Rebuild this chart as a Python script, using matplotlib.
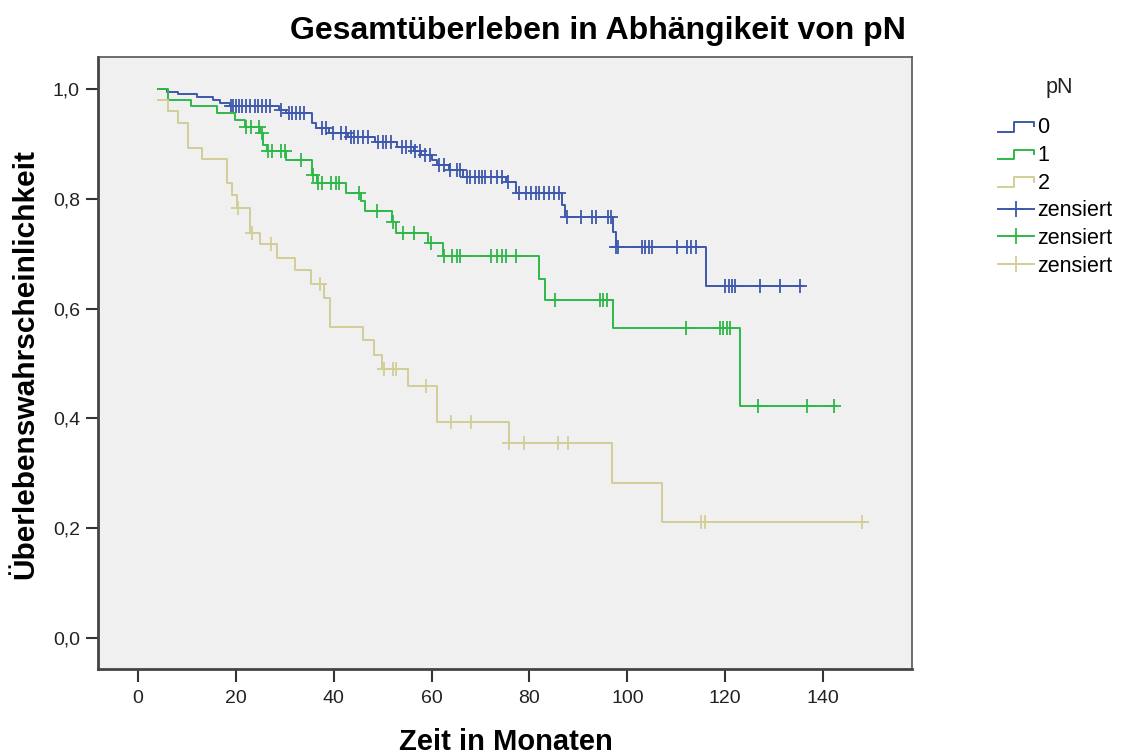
import numpy as np
import matplotlib
matplotlib.use('Agg')
import matplotlib.pyplot as plt
from matplotlib.lines import Line2D
from matplotlib.legend_handler import HandlerBase

plt.rcParams['font.family'] = ['Liberation Sans', 'DejaVu Sans']

# Kaplan-Meier Schaetzung (Zeit in Monaten)
# pN = 0
zeit_0 = [4.1, 5.9, 8.2, 12.0, 15.3, 16.7, 18.7, 28.8, 30.2, 35.6, 36.3, 39.0,
          43.0, 48.4, 53.0, 56.3, 57.9, 60.0, 61.1, 63.5, 66.4, 75.3, 77.3,
          86.6, 87.3, 97.0, 97.7, 116.0]
surv_0 = [1.0, 0.995, 0.991, 0.986, 0.980, 0.974, 0.968, 0.962, 0.956, 0.937,
          0.928, 0.919, 0.913, 0.904, 0.895, 0.886, 0.880, 0.871, 0.862, 0.853,
          0.840, 0.831, 0.810, 0.789, 0.767, 0.740, 0.713, 0.641]
ende_0 = 136.0
zens_0 = [19.0, 19.5, 20.0, 20.6, 21.2, 22.0, 22.8, 23.8, 24.5, 25.3, 26.2,
          27.0, 29.3, 30.8, 31.5, 32.2, 33.0, 34.0, 37.5, 38.5, 39.8, 41.5,
          42.5, 43.5, 44.2, 45.0, 46.0, 47.0, 49.0, 50.0, 50.7, 51.7, 54.0,
          54.7, 55.7, 56.7, 57.7, 58.7, 59.7, 61.5, 62.5, 63.8, 65.2, 65.9,
          67.2, 67.9, 68.9, 69.6, 70.2, 70.9, 72.2, 73.3, 74.3, 75.6, 77.9,
          79.3, 80.3, 81.3, 82.0, 83.0, 84.0, 85.0, 86.0, 87.6, 90.6, 92.7,
          93.7, 96.0, 96.7, 97.7, 98.0, 103.0, 103.7, 104.4, 105.1, 110.2,
          112.3, 113.0, 114.0, 120.0, 120.7, 121.4, 122.0, 127.2, 131.3, 135.3]

# pN = 1
zeit_1 = [4.1, 6.2, 10.9, 16.1, 19.8, 21.8, 25.0, 25.6, 26.3, 30.3, 35.6,
          36.5, 42.6, 45.6, 46.3, 52.0, 52.8, 59.3, 62.4, 81.9, 83.1, 97.0,
          123.0]
surv_1 = [1.0, 0.979, 0.968, 0.956, 0.944, 0.931, 0.919, 0.898, 0.886, 0.871,
          0.844, 0.828, 0.810, 0.795, 0.777, 0.758, 0.737, 0.719, 0.695, 0.653,
          0.616, 0.565, 0.423]
ende_1 = 142.7
zens_1 = [22.1, 23.1, 24.8, 25.4, 26.6, 27.3, 29.3, 30.0, 33.4, 35.8, 36.8,
          37.5, 39.4, 40.4, 41.1, 45.2, 48.9, 52.2, 54.2, 56.3, 59.9, 62.6,
          64.1, 65.1, 65.8, 72.2, 73.3, 74.3, 75.3, 77.3, 85.2, 94.4, 95.1,
          95.8, 112.0, 118.9, 119.6, 120.3, 121.0, 126.8, 136.8, 142.3]

# pN = 2
zeit_2 = [4.1, 6.2, 8.2, 10.3, 13.0, 18.1, 19.1, 20.2, 22.9, 24.9, 28.4,
          32.1, 35.3, 38.0, 39.2, 46.0, 48.2, 49.9, 55.1, 61.0, 75.8, 96.9,
          107.0]
surv_2 = [0.980, 0.959, 0.937, 0.892, 0.872, 0.828, 0.807, 0.784, 0.738,
          0.717, 0.693, 0.670, 0.645, 0.619, 0.567, 0.543, 0.516, 0.490, 0.460,
          0.394, 0.355, 0.282, 0.212]
ende_2 = 148.5
zens_2 = [20.4, 23.2, 27.1, 37.1, 50.2, 52.1, 52.8, 58.9, 64.0, 68.1, 75.9,
          78.8, 85.8, 87.8, 115.0, 115.9, 147.9]

farben = ['#3e58ac', '#2eb848', '#d3ce97']
y_ticks = [0.0, 0.2, 0.4, 0.6, 0.8, 1.0]
x_ticks = [0, 20, 40, 60, 80, 100, 120, 140]


class StepHandler(HandlerBase):
    '''Kleine Treppe als Legendensymbol, wie in SPSS.'''
    def create_artists(self, legend, orig_handle, xdescent, ydescent,
                       width, height, fontsize, trans):
        xs = np.array([0.0, 0.45, 0.45, 1.0, 1.0]) * width - xdescent
        ys = np.array([0.1, 0.1, 0.75, 0.75, 0.45]) * height - ydescent
        line = Line2D(xs, ys, color=orig_handle.get_color(),
                      lw=orig_handle.get_linewidth())
        line.set_transform(trans)
        return [line]


def km_kurve(ax, zeit, surv, ende, zens, farbe):
    '''Treppenkurve plus zensierte Faelle als +'''
    ax.step(zeit + [ende], surv + [surv[-1]], where='post', color=farbe, lw=1.4)
    idx = np.searchsorted(zeit, zens, side='right') - 1
    ax.plot(zens, np.array(surv)[idx], ls='none', marker='+', ms=10,
            mew=1.3, color=farbe)


fig = plt.figure(figsize=(11.26, 7.56), dpi=100)
ax = fig.add_axes([0.087, 0.1151, 0.723, 0.8095])
ax.set_facecolor('#f0f0f0')

km_kurve(ax, zeit_0, surv_0, ende_0, zens_0, farben[0])
km_kurve(ax, zeit_1, surv_1, ende_1, zens_1, farben[1])
km_kurve(ax, zeit_2, surv_2, ende_2, zens_2, farben[2])

ax.set_xlim(-8.2, 158.2)
ax.set_ylim(-0.056, 1.058)
ax.set_xticks(x_ticks)
ax.set_xticklabels([str(v) for v in x_ticks])
ax.set_yticks(y_ticks)
ax.set_yticklabels([f'{v:.1f}'.replace('.', ',') for v in y_ticks])
ax.tick_params(axis='both', direction='out', length=9, width=1.5,
               color='#333333', labelsize=14, labelcolor='#222222')
ax.tick_params(axis='y', pad=4)
ax.tick_params(axis='x', pad=6)
for side in ['left', 'bottom']:
    ax.spines[side].set_linewidth(2.0)
    ax.spines[side].set_color('#444444')
for side in ['top', 'right']:
    ax.spines[side].set_linewidth(1.2)
    ax.spines[side].set_color('#555555')

fig.text(0.531, 0.959, 'Gesamtüberleben in Abhängikeit von pN',
         fontsize=23, fontweight='bold', ha='center', va='center')
fig.text(0.449, 0.018, 'Zeit in Monaten', fontsize=21, fontweight='bold',
         ha='center', va='center')
fig.text(0.022, 0.519, 'Überlebenswahrscheinlichkeit', fontsize=21.5,
         fontweight='bold', rotation=90, ha='center', va='center')

# Legende
fig.text(0.9405, 0.884, 'pN', fontsize=15.5, ha='center', va='center',
         color='#222222')
griffe = [Line2D([], [], color=f, lw=1.4) for f in farben]
griffe += [Line2D([], [], color=f, lw=1.4, marker='+', ms=12, mew=1.3)
           for f in farben]
namen = ['0', '1', '2', 'zensiert', 'zensiert', 'zensiert']
fig.legend(griffe, namen, loc='upper left', bbox_to_anchor=(0.886, 0.845),
           frameon=False, fontsize=15.5, handlelength=1.7, handletextpad=0.15,
           labelspacing=0.31, borderpad=0, borderaxespad=0, numpoints=1,
           handler_map={g: StepHandler() for g in griffe[:3]})

fig.savefig('out.png', dpi=100, facecolor='white')
